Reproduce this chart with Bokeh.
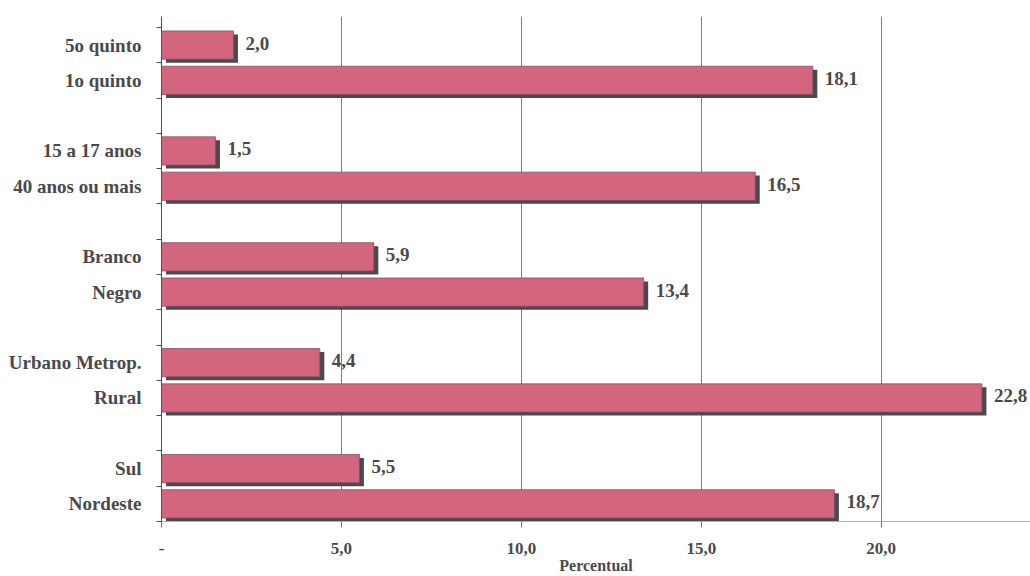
from bokeh.plotting import figure
from bokeh.models import Range1d, FixedTicker, ColumnDataSource
from bokeh.core.properties import value
from bokeh.embed import file_html
from bokeh.resources import INLINE

# Categories, top to bottom, in pairs
categories = ["5o quinto", "1o quinto",
              "15 a 17 anos", "40 anos ou mais",
              "Branco", "Negro",
              "Urbano Metrop.", "Rural",
              "Sul", "Nordeste"]
values = [2.0, 18.1, 1.5, 16.5, 5.9, 13.4, 4.4, 22.8, 5.5, 18.7]
x_ticks = [0, 5, 10, 15, 20]
x_tick_labels = ["-", "5,0", "10,0", "15,0", "20,0"]

# Each pair is followed by an empty slot
slots = [(i // 2) * 3 + (i % 2) for i in range(len(categories))]
centers = [s + 0.5 for s in slots]
n_slots = 14

W, H = 1030, 576
left_b, right_b, top_b, bottom_b = 161, 0, 16, 54
x_max = 24.15
px_x = (W - left_b - right_b) / x_max
px_y = (H - top_b - bottom_b) / (n_slots + 0.31)

font = "Liberation Serif"
txt = "#4a4a4a"

p = figure(width=W, height=H, output_backend="svg", toolbar_location=None,
           x_range=Range1d(0, x_max), y_range=Range1d(n_slots, -0.31),
           min_border_left=left_b, min_border_right=right_b,
           min_border_top=top_b, min_border_bottom=bottom_b)
p.outline_line_color = None
p.background_fill_color = "white"

# Shadow offsets (screen px converted to data units)
dx = 4.5 / px_x
dy = 3.5 / px_y
bar_h = 0.8

src = ColumnDataSource(dict(
    y=centers, v=values,
    ys=[c + dy for c in centers],
    vs=[v + dx for v in values],
    lab=[f"{v:.1f}".replace(".", ",") for v in values],
))

p.hbar(y="ys", left=dx, right="vs", height=bar_h, source=src,
       fill_color="#4a4a4e", line_color=None)
p.hbar(y="y", left=0, right="v", height=bar_h, source=src,
       fill_color="#d4657f", line_color="#7e5060", line_width=0.8)

p.text(x="v", y="y", text="lab", source=src, x_offset=12, y_offset=-2,
       text_font=value(font), text_font_style="bold", text_font_size="19px",
       text_color=txt, text_baseline="middle", text_align="left")

# Grid
p.ygrid.visible = False
p.xgrid.ticker = FixedTicker(ticks=x_ticks[1:])
p.xgrid.grid_line_color = "#808080"
p.xgrid.grid_line_width = 1

# X axis
xa = p.xaxis[0]
xa.ticker = FixedTicker(ticks=x_ticks)
xa.major_label_overrides = {t: l for t, l in zip(x_ticks, x_tick_labels)}
xa.axis_line_color = "#b0b0b0"
xa.major_tick_line_color = "#707070"
xa.major_tick_out = 6
xa.major_tick_in = 0
xa.minor_tick_line_color = None
xa.major_label_standoff = 15
xa.major_label_text_font = font
xa.major_label_text_font_style = "bold"
xa.major_label_text_font_size = "17px"
xa.major_label_text_color = txt
xa.axis_label = "Percentual"
xa.axis_label_text_font = font
xa.axis_label_text_font_style = "bold"
xa.axis_label_text_font_size = "16px"
xa.axis_label_text_color = txt
xa.axis_label_standoff = 0

# Y axis: labels at bar centres, ticks at slot boundaries
ya = p.yaxis[0]
ya.ticker = FixedTicker(ticks=centers, minor_ticks=list(range(n_slots + 1)))
ya.major_label_overrides = {c: n for c, n in zip(centers, categories)}
ya.axis_line_color = "#505050"
ya.major_tick_line_color = None
ya.minor_tick_line_color = "#505050"
ya.minor_tick_out = 5
ya.minor_tick_in = 0
ya.major_label_standoff = 14
ya.major_label_text_font = font
ya.major_label_text_font_style = "bold"
ya.major_label_text_font_size = "19px"
ya.major_label_text_color = txt

open("out.html", "w").write(file_html(p, INLINE))
